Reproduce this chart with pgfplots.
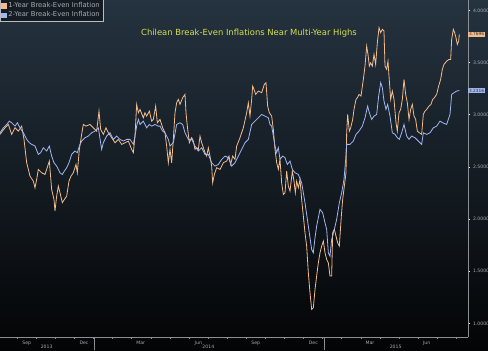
\documentclass[border=0pt]{standalone}
\usepackage{pgfplots}
\pgfplotsset{compat=1.18}
\usepackage{fontspec}
\setmainfont{DejaVu Sans}
\definecolor{bgtop}{HTML}{253340}
\definecolor{bgmid}{HTML}{0E1419}
\definecolor{bgbot}{HTML}{030405}
\definecolor{oneyr}{HTML}{F4BC8C}
\definecolor{twoyr}{HTML}{A3B6F2}
\definecolor{axgray}{HTML}{8A8F94}
\definecolor{txtgray}{HTML}{A9ADB2}
\definecolor{ttl}{HTML}{D6E04C}
\definecolor{legbg}{HTML}{141B22}
\begin{document}
\begin{tikzpicture}[x=1pt,y=1pt]
\shade[top color=bgtop, middle color=bgmid, bottom color=bgbot] (0,0) rectangle (488,351);
\begin{axis}[
  at={(0,13)}, anchor=south west,
  scale only axis, width=468pt, height=338pt,
  xmin=0, xmax=1404, ymin=0.866, ymax=4.105,
  axis x line*=bottom, axis y line*=right,
  axis line style={axgray, line width=0.6pt, -},
  clip=false,
  ytick={1,1.5,2,2.5,3,3.5,4},
  yticklabel style={/pgf/number format/.cd, fixed, fixed zerofill, precision=4},
  /pgf/number format/assume math mode=true,
  ticklabel style={font=\fontsize{4.6}{5}\selectfont, text=txtgray},
  ytick style={draw=white, line width=0.8pt},
  tick align=outside,
  major tick length=1.5pt,
  xtick={80,252,422,595,767,940,1110,1280},
  xticklabels={Sep,Dec,Mar,Jun,Sep,Dec,Mar,Jun},
  xtick style={draw=none},
  minor xtick={51,109,166,223,281,338,395,453,510,567,625,682,739,796,854,911,968,1025,1083,1140,1197,1255,1312,1369},
  minor tick length=1.5pt,
  minor x tick style={draw=axgray, line width=0.4pt},
  xticklabel style={yshift=1pt},
  extra x ticks={140,625,1187},
  extra x tick labels={2013,2014,2015},
  extra x tick style={tick style={draw=none}, xticklabel style={yshift=-4pt}},
  legend style={at={(0,1)}, anchor=north west, fill=legbg, draw=axgray!60, text=txtgray,
    font=\fontsize{6.8}{7}\selectfont, inner sep=1pt, row sep=-1.5pt,
    legend cell align=left},
  legend image code/.code={\fill[#1] (0pt,-2.2pt) rectangle (4.4pt,2.2pt);},
]
\addplot[oneyr, line width=0.8pt] coordinates {
(0,2.812)(15,2.875)(25,2.907)(35,2.812)(45,2.875)(55,2.843)(65,2.891)(72,2.764)(80,2.540)(90,2.412)
(100,2.364)(105,2.300)(110,2.380)(115,2.476)(125,2.444)(135,2.428)(140,2.476)(148,2.556)(155,2.284)(162,2.188)
(165,2.077)(170,2.220)(175,2.316)(180,2.252)(187,2.157)(193,2.188)(200,2.220)(207,2.364)(213,2.412)(220,2.444)
(228,2.524)(232,2.444)(238,2.668)(245,2.812)(250,2.907)(258,2.891)(270,2.907)(280,2.875)(290,2.843)(297,3.035)
(302,2.859)(310,2.812)(318,2.875)(325,2.827)(335,2.780)(345,2.732)(355,2.764)(365,2.716)(375,2.732)(385,2.748)
(395,2.668)(400,2.636)(405,2.796)(410,3.099)(415,3.019)(420,3.051)(430,2.971)(435,3.019)(440,2.987)(448,3.035)
(455,2.939)(460,2.955)(467,3.083)(472,2.923)(480,2.955)(488,2.875)(495,2.827)(500,2.700)(505,2.540)(510,2.668)
(515,2.540)(520,2.764)(525,3.019)(530,3.115)(535,3.147)(540,3.099)(548,3.163)(555,3.195)(558,3.019)(562,2.891)
(568,2.732)(575,2.780)(580,2.748)(585,2.668)(590,2.684)(595,2.668)(600,2.796)(605,2.732)(610,2.684)(615,2.636)
(620,2.604)(625,2.684)(630,2.604)(635,2.508)(638,2.348)(643,2.428)(650,2.492)(660,2.476)(670,2.540)(680,2.556)
(687,2.604)(692,2.524)(698,2.604)(705,2.572)(710,2.700)(720,2.780)(730,2.875)(740,3.019)(745,3.115)(750,2.987)
(755,3.147)(758,3.275)(762,3.243)(767,3.195)(775,3.227)(785,3.211)(793,3.291)(798,3.307)(803,3.083)(808,3.019)
(815,2.987)(820,2.859)(825,2.668)(830,2.540)(835,2.476)(840,2.572)(845,2.348)(850,2.236)(855,2.252)(860,2.460)
(865,2.316)(870,2.268)(877,2.460)(882,2.364)(886,2.252)(890,2.364)(895,2.300)(900,2.380)(905,2.188)(910,2.029)
(915,1.869)(920,1.741)(925,1.486)(930,1.294)(935,1.134)(940,1.150)(945,1.326)(950,1.454)(955,1.581)(960,1.677)
(965,1.741)(970,1.789)(975,1.677)(980,1.613)(985,1.581)(990,1.454)(995,1.454)(998,1.869)(1003,1.901)(1008,1.837)
(1013,1.773)(1018,1.741)(1024,2.029)(1028,2.188)(1033,2.316)(1038,2.444)(1040,2.827)(1043,3.003)(1048,2.843)(1052,2.875)
(1058,2.955)(1062,3.051)(1068,3.147)(1072,3.163)(1077,3.195)(1083,3.179)(1090,3.339)(1095,3.466)(1100,3.658)(1104,3.578)
(1108,3.466)(1112,3.498)(1117,3.466)(1122,3.578)(1127,3.482)(1132,3.690)(1137,3.834)(1142,3.786)(1147,3.818)(1152,3.802)
(1155,3.466)(1160,3.435)(1164,3.514)(1167,3.371)(1172,3.147)(1177,3.227)(1182,3.147)(1188,2.923)(1192,2.843)(1197,3.019)
(1202,3.051)(1207,3.147)(1212,3.339)(1217,3.195)(1222,3.115)(1227,2.955)(1232,3.051)(1237,3.099)(1242,2.987)(1247,2.955)
(1252,2.843)(1258,2.827)(1265,2.812)(1270,3.003)(1275,3.035)(1280,3.051)(1287,3.083)(1293,3.099)(1298,3.147)(1303,3.163)
(1310,3.195)(1316,3.275)(1322,3.339)(1327,3.435)(1332,3.482)(1340,3.514)(1347,3.530)(1352,3.530)(1355,3.722)(1360,3.818)
(1364,3.786)(1368,3.738)(1372,3.674)(1376,3.706)(1378,3.770)
};
\addlegendentry{1-Year Break-Even Inflation}
\addplot[twoyr, line width=0.8pt] coordinates {
(0,2.827)(10,2.875)(20,2.907)(28,2.939)(35,2.923)(45,2.891)(52,2.923)(60,2.875)(70,2.827)(80,2.764)
(88,2.732)(95,2.716)(105,2.700)(115,2.620)(122,2.636)(130,2.684)(140,2.652)(148,2.700)(155,2.604)(162,2.540)
(170,2.508)(180,2.444)(187,2.428)(193,2.460)(200,2.492)(207,2.540)(215,2.620)(225,2.652)(232,2.636)(238,2.700)
(245,2.748)(255,2.780)(265,2.796)(275,2.827)(285,2.843)(295,2.875)(305,2.668)(310,2.732)(320,2.796)(330,2.827)
(340,2.764)(350,2.796)(360,2.764)(370,2.748)(380,2.764)(390,2.764)(400,2.716)(405,2.796)(410,2.891)(415,2.955)
(420,2.907)(430,2.939)(440,2.875)(448,2.907)(455,2.891)(465,2.907)(475,2.891)(480,2.891)(488,2.843)(495,2.827)
(505,2.764)(510,2.700)(520,2.732)(530,2.907)(540,2.923)(548,2.907)(555,2.827)(565,2.764)(575,2.764)(585,2.700)
(595,2.652)(605,2.684)(615,2.620)(625,2.620)(635,2.540)(645,2.508)(655,2.524)(665,2.572)(675,2.604)(685,2.588)
(695,2.508)(705,2.540)(715,2.604)(725,2.668)(735,2.732)(745,2.764)(755,2.907)(765,2.939)(775,2.971)(785,3.003)
(795,2.987)(805,2.971)(810,2.907)(815,2.891)(820,2.796)(825,2.700)(830,2.636)(835,2.684)(840,2.572)(848,2.604)
(855,2.588)(862,2.524)(870,2.556)(877,2.476)(885,2.444)(895,2.428)(905,2.348)(915,2.157)(925,1.933)(935,1.709)
(940,1.677)(945,1.821)(950,1.933)(960,2.093)(968,2.061)(975,1.965)(980,1.901)(985,1.677)(990,1.645)(995,1.805)
(1003,1.901)(1010,1.997)(1018,2.157)(1025,2.252)(1032,2.380)(1037,2.572)(1040,2.716)(1050,2.716)(1060,2.748)(1068,2.812)
(1077,2.843)(1087,2.891)(1095,2.971)(1103,3.083)(1108,3.019)(1115,2.955)(1122,2.987)(1130,3.003)(1136,3.179)(1142,3.307)
(1147,3.259)(1152,3.131)(1158,3.051)(1163,3.099)(1170,2.987)(1177,2.827)(1185,2.812)(1192,2.780)(1198,2.764)(1205,2.827)
(1212,2.907)(1220,2.796)(1227,2.764)(1235,2.796)(1245,2.780)(1255,2.748)(1265,2.716)(1270,2.827)(1280,2.812)(1290,2.827)
(1300,2.875)(1310,2.891)(1320,2.939)(1328,2.923)(1340,2.907)(1350,3.003)(1355,3.195)(1362,3.211)(1370,3.227)(1378,3.232)
};
\addlegendentry{2-Year Break-Even Inflation}
\node[text=ttl, font=\fontsize{8.4}{9}\selectfont] at (axis cs:747,3.786) {Chilean Break-Even Inflations Near Multi-Year Highs};
\node[anchor=west, fill=oneyr, text=black!80, font=\fontsize{4.3}{4.5}\selectfont, inner sep=0.8pt] at (axis cs:1404,3.7696) {3.7696};
\node[anchor=west, fill=twoyr, text=black!80, font=\fontsize{4.3}{4.5}\selectfont, inner sep=0.8pt] at (axis cs:1404,3.2316) {3.2316};
\draw[axgray, line width=0.5pt] (axis cs:283,0.866) -- (axis cs:283,0.7414);
\draw[axgray, line width=0.5pt] (axis cs:972,0.866) -- (axis cs:972,0.7414);
\end{axis}
\pgfresetboundingbox
\useasboundingbox (0,0) rectangle (488,351);
\end{tikzpicture}
\end{document}
